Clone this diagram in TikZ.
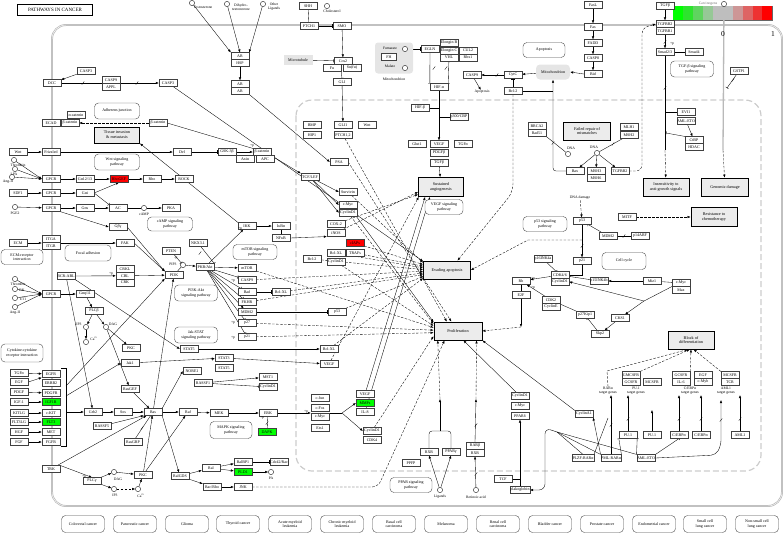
\documentclass[tikz,border=0pt]{standalone}
\usepackage{fontspec}
\setmainfont{Liberation Serif}
\usetikzlibrary{arrows.meta,calc,positioning}
\pgfdeclarelayer{background}
\pgfsetlayers{background,main}
\definecolor{keyA}{RGB}{0,255,0}
\definecolor{keyB}{RGB}{45,228,45}
\definecolor{keyC}{RGB}{95,212,95}
\definecolor{keyD}{RGB}{150,200,150}
\definecolor{keyE}{RGB}{190,190,190}
\definecolor{keyF}{RGB}{205,150,150}
\definecolor{keyG}{RGB}{222,100,100}
\definecolor{keyH}{RGB}{238,50,50}
\definecolor{keyI}{RGB}{255,0,0}

\begin{document}
\begin{tikzpicture}[x=1pt,y=-1pt,
  every node/.style={font=\fontsize{4}{4.4}\selectfont},
  gene/.style={draw=black!75,fill=white,line width=0.35pt,minimum width=18pt,minimum height=6.8pt,inner sep=0.3pt},
  upreg/.style={gene,fill=red},
  downreg/.style={gene,fill=green},
  pheno/.style={draw,line width=0.9pt,fill=gray!15,minimum width=46pt,minimum height=18pt,align=center,inner sep=0.5pt,font=\fontsize{4.2}{4.8}\selectfont},
  pway/.style={draw=black!70,rounded corners=4pt,line width=0.4pt,fill=white,minimum width=44pt,minimum height=15pt,align=center,inner sep=0.5pt},
  organelle/.style={fill=gray!20,rounded corners=3pt,inner sep=0.5pt},
  cpd/.style={circle,draw,fill=white,minimum size=5.2pt,inner sep=0pt,line width=0.35pt},
  tag/.style={inner sep=0.3pt,align=center,font=\fontsize{3.7}{3.9}\selectfont},
  act/.style={-{Latex[length=3pt,width=2.4pt]},line width=0.35pt},
  inh/.style={-{Bar[width=3.4pt]},line width=0.35pt},
  ind/.style={act,dash pattern=on 2.5pt off 1.5pt},
  link/.style={line width=0.35pt},
  brkmark/.pic={\draw[line width=0.3pt,solid] (-1.2,1.6) -- (1.2,-1.6);}]
  \path[use as bounding box] (0,0) rectangle (784,533);
  \node[draw,line width=0.6pt,minimum width=75pt,minimum height=11pt,inner sep=0pt,font=\fontsize{5}{5}\selectfont] (title) at (55,10) {PATHWAYS IN CANCER};

  % Colour key in the top right corner.
  \fill[keyA] (673.3,6) rectangle ++(9.9,14);
  \fill[keyB] (683.2,6) rectangle ++(9.9,14);
  \fill[keyC] (693.1,6) rectangle ++(9.9,14);
  \fill[keyD] (703.0,6) rectangle ++(9.9,14);
  \fill[keyE] (712.9,6) rectangle ++(9.9,14);
  \fill[keyE] (722.8,6) rectangle ++(9.9,14);
  \fill[keyF] (732.7,6) rectangle ++(9.9,14);
  \fill[keyG] (742.6,6) rectangle ++(9.9,14);
  \fill[keyH] (752.5,6) rectangle ++(9.9,14);
  \fill[keyI] (762.4,6) rectangle ++(9.9,14);
  \node[cpd] (carc) at (724,4) {};
  \node[tag,text=black!55] (carcl) at (708,4) {Carcinogens};
  \node[font=\fontsize{7.5}{8}\selectfont,inner sep=0pt] (zero) at (723,34) {0};
  \node[font=\fontsize{7.5}{8}\selectfont,inner sep=0pt] (one) at (773,34) {1};

  % Left column: DCC, adherens junction and G-protein receptors.
  \node[gene] (casp3a) at (86,71) {CASP3};
  \node[gene] (dcc) at (52,83) {DCC};
  \node[gene] (casp9a) at (111,80) {CASP9};
  \node[gene] (appl) at (111,86.8) {APPL};
  \node[gene] (casp3b) at (168,83) {CASP3};
  \node[pway,minimum width=45pt,minimum height=16pt] (adhpw) at (117,111) {Adherens junction};
  \node[gene] (acat) at (76,115) {α-catenin};
  \node[gene] (ecad) at (51,123) {ECAD};
  \node[gene] (bcat1) at (70,123) {β-catenin};
  \node[gene] (bcat2) at (158,123) {β-catenin};
  \node[pheno,minimum width=45pt,minimum height=16pt] (tissue) at (117,135) {Tissue invasion\\\& metastasis};
  \node[gene] (wnt1) at (18,152) {Wnt};
  \node[gene] (fzd) at (51,152) {Frizzled};
  \node[gene] (dvl) at (182,152) {Dvl};
  \node[pway,minimum width=45pt,minimum height=16pt] (wntpw) at (117,162) {Wnt signaling\\pathway};
  \node[cpd] (thr1) at (14,160) {};
  \node[tag] (thr1l) at (18,165) {Thrombin};
  \node[cpd] (lpa) at (15,169) {};
  \node[tag] (lpal) at (14,174) {LPA};
  \node[cpd] (ang1) at (12,177) {};
  \node[tag] (ang1l) at (8,182) {Ang-II};
  \node[gene] (gpcr1) at (51,179) {GPCR};
  \node[gene] (g1213) at (85,179) {Gα12/13};
  \node[upreg] (rhogef) at (119,179) {RhoGEF};
  \node[gene] (rho) at (152,179) {Rho};
  \node[gene] (rock) at (184,179) {ROCK};
  \node[gene] (sdf1) at (18,193) {SDF1};
  \node[gene] (gpcr2) at (51,193) {GPCR};
  \node[gene] (gai) at (85,193) {Gαi};
  \node[cpd] (pge2) at (15,207) {};
  \node[tag] (pge2l) at (15,213) {PGE2};
  \node[gene] (gpcr3) at (51,208) {GPCR};
  \node[gene] (gas) at (85,208) {Gαs};
  \node[gene] (ac) at (118,208) {AC};
  \node[cpd] (camp) at (144,208) {};
  \node[tag] (campl) at (144,214) {cAMP};
  \node[gene] (pka) at (171,208) {PKA};
  \node[pway,minimum width=45pt,minimum height=14pt] (camppw) at (170,224) {cAMP signaling\\pathway};
  \node[gene] (gbg) at (118,227) {Gβγ};
  \node[gene] (ecm) at (18,243) {ECM};
  \node[gene] (itga) at (51,239) {ITGA};
  \node[gene] (itgb) at (51,245.8) {ITGB};
  \node[gene] (fak) at (125,243) {FAK};
  \node[pway,minimum width=42pt] (ecmpw) at (22,257) {ECM-receptor\\interaction};
  \node[pway,minimum width=46pt,minimum height=16pt] (focpw) at (88,253) {Focal adhesion};
  \node[gene] (pten) at (171,251) {PTEN};
  \node[gene] (nkx) at (198,243) {NKX3.1};
  \node[cpd] (pip3) at (183,265) {};
  \node[tag] (pip3l) at (173,264) {PIP3};
  \node[gene] (pi3k) at (174,275) {PI3K};
  \node[gene] (akt) at (205,267) {PKB/Akt};
  \node[gene] (bcrabl) at (66,276) {BCR-ABL};
  \node[gene] (crkl) at (125,269) {CRKL};
  \node[gene] (cbl) at (125,275.8) {CBL};
  \node[gene] (crk) at (125,282.6) {CRK};
  \node[cpd] (thr2) at (15,279) {};
  \node[tag] (thr2l) at (18,284) {Thrombin};
  \node[cpd] (bk) at (15,289) {};
  \node[tag] (bkl) at (22,290) {BK};
  \node[cpd] (et1) at (15,298) {};
  \node[tag] (et1l) at (23,299) {ET1};
  \node[cpd] (ang2) at (15,307) {};
  \node[tag] (ang2l) at (15,313) {Ang-II};
  \node[gene] (gpcr4) at (51,294) {GPCR};
  \node[gene] (gaq) at (85,294) {Gαq/11};
  \node[gene] (plcb) at (94,311) {PLCβ};
  \node[cpd] (ip3a) at (86,327) {};
  \node[tag] (ip3al) at (79,324) {IP3};
  \node[cpd] (dag1) at (106,327) {};
  \node[tag] (dag1l) at (113,324) {DAG};
  \node[cpd] (ca1) at (86,342) {};
  \node[tag] (ca1l) at (94,339) {Ca\textsuperscript{2+}};
  \node[gene] (pkc1) at (131,348) {PKC};
  \node[pway,minimum width=43pt,minimum height=16pt] (pi3kpw) at (196,293) {PI3K-Akt\\signaling pathway};
  \node[pway,minimum width=43pt,minimum height=16pt] (jakpw) at (196,335) {Jak-STAT\\signaling pathway};
  \node[gene] (stat5a) at (189,349) {STAT5};
  \node[pway,minimum width=42pt,minimum height=18pt] (cytpw) at (22,353) {Cytokine-cytokine\\receptor interaction};

  % Growth factors, receptor tyrosine kinases and the Ras cascade.
  \node[gene] (tgfa1) at (19,373) {TGFα};
  \node[gene] (egf1) at (19,382) {EGF};
  \node[gene] (pdgf) at (19,392) {PDGF};
  \node[gene] (igf1) at (19,402) {IGF-1};
  \node[gene] (kitlg) at (19,413) {KITLG};
  \node[gene] (flt3lg) at (19,422) {FLT3LG};
  \node[gene] (hgf) at (19,432) {HGF};
  \node[gene] (fgf) at (19,442) {FGF};
  \node[gene] (egfr) at (51,374) {EGFR};
  \node[gene] (erbb2) at (51,383) {ERBB2};
  \node[gene] (pdgfr) at (51,393) {PDGFR};
  \node[downreg] (igf1r) at (51,402) {IGF1R};
  \node[gene] (ckit) at (51,413) {c-KIT};
  \node[downreg] (flt3) at (51,422) {FLT3};
  \node[gene] (met) at (51,432) {MET};
  \node[gene] (fgfr) at (51,442) {FGFR};
  \coordinate (rtk) at (66,412);
  \coordinate (rtkpi) at (66,386);
  \coordinate (rtkjak) at (66,396);
  \node[gene] (grb2) at (93,412) {Grb2};
  \node[gene] (sos) at (123,412) {Sos};
  \node[gene] (ras) at (153,412) {Ras};
  \node[gene] (raf) at (188,412) {Raf};
  \node[gene] (rasgef) at (130,389) {RasGEF};
  \node[gene] (rassf5) at (102,426) {RASSF5};
  \node[gene] (rasgrp) at (133,442) {RasGRP};
  \node[gene] (jak1) at (130,363) {Jak1};
  \node[gene] (trk) at (51,469) {TRK};
  \node[gene] (plcg) at (92,481) {PLCγ};
  \node[cpd] (dag2) at (114,472) {};
  \node[tag] (dag2l) at (118,479) {DAG};
  \node[cpd] (ip3b) at (114,489) {};
  \node[tag] (ip3bl) at (115,495) {IP3};
  \node[cpd] (ca2) at (138,489) {};
  \node[tag] (ca2l) at (141,496) {Ca\textsuperscript{2+}};
  \node[gene] (pkc2) at (143,475) {PKC};
  \node[gene] (ralgds) at (180,476) {RalGDS};
  \node[gene] (nore1) at (192,371) {NORE1};
  \node[gene] (rassf1) at (203,383) {RASSF1};
  \node[gene] (stat3) at (224,358) {STAT3};
  \node[gene] (stat5b) at (224,368) {STAT5};
  \node[gene] (mst1) at (268,377) {MST1};
  \node[gene] (ccnd1c) at (268,387) {CyclinD1};
  \node[gene] (mek) at (219,413) {MEK};
  \node[gene] (erk) at (268,413) {ERK};
  \node[pway,minimum width=42pt,minimum height=17pt] (mapkpw) at (231,430) {MAPK signaling\\pathway};
  \node[downreg] (dapk) at (267,432) {DAPK};
  \node[gene] (cjun) at (320,398) {c-Jun};
  \node[gene] (cfos) at (320,408) {c-Fos};
  \node[gene] (cmyc3) at (320,417) {c-Myc};
  \node[gene] (ets1) at (320,428) {Ets1};
  \node[gene] (vegf3) at (365,394) {VEGF};
  \node[downreg] (mmps) at (365,403) {MMPs};
  \node[gene] (il8) at (365,412) {IL-8};
  \node[gene] (ccnd1d) at (372,431) {CyclinD1};
  \node[gene] (cdk4) at (372,440) {CDK4};
  \node[gene] (ral) at (211,468) {Ral};
  \node[gene] (ralbp1) at (243,462) {RalBP1};
  \node[gene] (cdc42) at (279,462) {Cdc42/Rac};
  \node[downreg] (pld1) at (243,472) {PLD1};
  \node[cpd] (pa) at (271,472) {};
  \node[tag] (pal) at (271,478) {PA};
  \node[gene] (racrho) at (212,487) {Rac/Rho};
  \node[gene] (jnk) at (243,487) {JNK};
  \node[gene] (bclxl3) at (329,349) {Bcl-XL};
  \node[gene] (vegf2) at (329,364) {VEGF};

  % Middle top: androgen, hedgehog, Wnt and NF-kB branches.
  \node[cpd] (testo) at (192,3) {};
  \node[tag] (testol) at (203,7) {Testosterone};
  \node[cpd] (dht) at (227,4) {};
  \node[tag] (dhtl) at (241,7) {Dihydro-\\testosterone};
  \node[cpd] (oth) at (263,4) {};
  \node[tag] (othl) at (274,7) {Other\\Ligands};
  \node[gene] (ar1) at (240,56) {AR};
  \node[gene] (hsp) at (240,62.8) {HSP};
  \node[gene] (ar2) at (240,84) {AR};
  \node[gene] (ar3) at (240,90.8) {AR};
  \node[gene] (shh) at (308,6) {SHH};
  \node[cpd] (chol) at (327,6) {};
  \node[tag] (choll) at (332,11) {Cholesterol};
  \node[gene] (ptch1) at (309,26) {PTCH1};
  \node[gene] (smo) at (342,26) {SMO};
  \node[organelle,rounded corners=0pt,minimum width=29pt,minimum height=10pt] (micro) at (298,60) {Microtubule};
  \node[gene] (cos2) at (343,61) {Cos2};
  \node[gene] (fu) at (332,67.8) {Fu};
  \node[gene] (sufu) at (352,67.8) {Su(fu)};
  \node[gene] (gli) at (342,82) {GLI};
  \node[gene] (bmp) at (312,125) {BMP};
  \node[gene] (gli1) at (343,125) {GLI1};
  \node[gene] (wnt2) at (367,125) {Wnt};
  \node[gene] (hip1) at (312,135) {HIP1};
  \node[gene] (ptch12) at (343,135) {PTCH1,2};
  \node[gene] (psa) at (339,162) {PSA};
  \node[gene] (gsk) at (227,152) {GSK-3β};
  \node[gene] (bcat3) at (262,152) {β-catenin};
  \node[gene] (axin) at (245,159) {Axin};
  \node[gene] (apc) at (265,159) {APC};
  \node[gene] (tcf) at (310,177) {TCF/LEF};
  \node[gene] (survivin) at (348,192) {Survivin};
  \node[gene] (cmyc1) at (348,205) {c-Myc};
  \node[gene] (ccnd1a) at (348,212.8) {CyclinD1};
  \node[gene] (ikk) at (247,226) {IKK};
  \node[gene] (ikba) at (281,226) {IκBα};
  \node[gene] (nfkb) at (281,238) {NFκB};
  \node[gene] (cox2) at (336,224) {COX-2};
  \node[gene] (inos) at (336,233) {iNOS};
  \node[upreg] (ciaps) at (355,243) {cIAPs};
  \node[gene] (trafs) at (355,253) {TRAFs};
  \node[gene] (bclxl1) at (336,253) {Bcl-XL};
  \node[gene] (bcl2a) at (312,259) {Bcl-2};
  \node[gene] (ccnd1b) at (336,261.8) {CyclinD1};
  \node[pway,minimum width=44pt] (mtorpw) at (255,252) {mTOR signaling\\pathway};
  \node[gene] (mtor) at (247,268) {mTOR};
  \node[gene] (casp9b) at (247,280) {CASP9};
  \node[gene] (bad) at (247,292) {Bad};
  \node[gene] (fkhr) at (247,302) {FKHR};
  \node[gene] (mdm2a) at (247,312) {MDM2};
  \node[gene] (p27a) at (247,323) {p27};
  \node[gene] (p21a) at (247,337) {p21};
  \node[gene] (bclxl2) at (281,292) {Bcl-XL};
  \node[gene] (p53a) at (337,312) {p53};

  % Hypoxia branch and the phenotype boxes.
  \node[organelle,minimum width=38pt,minimum height=31pt] (mito1) at (394,58) {};
  \node[tag] (fuml) at (390,48) {Fumarate};
  \node[cpd] (fum) at (405,49) {};
  \node[gene,minimum width=15pt] (fh) at (389,57) {FH};
  \node[tag] (mall) at (390,66) {Malate};
  \node[cpd] (mal) at (405,68) {};
  \node[tag] (mito1l) at (394,79) {Mitochondrion};
  \node[gene] (egln) at (430,49) {EGLN};
  \node[gene] (elob) at (449,43) {Elongin B};
  \node[gene] (eloc) at (449,50.5) {Elongin C};
  \node[gene] (vhl) at (449,57.3) {VHL};
  \node[gene] (cul2) at (468,50.5) {CUL2};
  \node[gene] (rbx1) at (468,57.3) {Rbx1};
  \node[gene] (hifa) at (439,87) {HIF-α};
  \node[gene] (hifb) at (420,108) {HIF-β};
  \node[gene] (p300) at (459,117) {p300/CBP};
  \node[gene] (glut1) at (417,144) {Glut1};
  \node[gene] (vegf1) at (439,144) {VEGF};
  \node[gene] (tgfa2) at (463,144) {TGFα};
  \node[gene] (pdgfb) at (439,153) {PDGFβ};
  \node[gene] (tgfb2) at (439,163) {TGFβ};
  \node[pheno,minimum width=45pt,minimum height=19pt] (angio) at (441,187) {Sustained\\angiogenesis};
  \node[pway,minimum width=38pt] (vegfpw) at (444,207) {VEGF signaling\\pathway};
  \node[pheno,minimum width=47pt] (evading) at (447,270) {Evading apoptosis};
  \node[pheno,minimum width=48pt] (prolif) at (458,331) {Proliferation};

  % Right half: apoptosis, DNA repair, TGF-beta and the cell cycle.
  \node[pway,minimum width=42pt] (apopw) at (544,50) {Apoptosis};
  \node[organelle,rounded corners=4pt,minimum width=34pt,minimum height=15pt] (mito2) at (553,72) {Mitochondrion};
  \node[gene] (cytc) at (513,75) {CytC};
  \node[gene] (casp9c) at (472,75) {CASP9};
  \node[tag] (apol) at (482,92) {Apoptosis};
  \node[gene] (bcl2b) at (513,91) {Bcl-2};
  \node[gene] (fasl) at (593,5) {FasL};
  \node[gene] (fas) at (593,27) {Fas};
  \node[gene] (fadd) at (593,43) {FADD};
  \node[gene] (casp8) at (593,58) {CASP8};
  \node[gene] (bid) at (593,74) {Bid};
  \node[gene] (brca2) at (537,126) {BRCA2};
  \node[gene] (rad51) at (537,132.8) {Rad51};
  \node[pheno,minimum width=47pt] (failed) at (587,131) {Failed repair of\\mismatches};
  \node[cpd] (dna1) at (568,154) {};
  \node[tag] (dna1l) at (571,148) {DNA};
  \node[cpd] (dna2) at (597,153) {};
  \node[tag] (dna2l) at (594,147) {DNA};
  \node[gene] (bax) at (575,171) {Bax};
  \node[gene] (msh3) at (596,171) {MSH3};
  \node[gene] (msh6) at (596,177.8) {MSH6};
  \node[gene] (tgfbr2c) at (620,171) {TGFBR2};
  \node[gene] (mlh1) at (629,127) {MLH1};
  \node[gene] (msh2) at (629,135) {MSH2};
  \node[gene] (tgfb) at (665,6) {TGFβ};
  \node[gene] (tgfbr2) at (665,24) {TGFBR2};
  \node[gene] (tgfbr1) at (665,30.8) {TGFBR1};
  \node[gene] (smad23) at (665,52) {Smad2/3};
  \node[gene] (smad4) at (694,52) {Smad4};
  \node[pway,minimum width=43pt,minimum height=16pt] (tgfpw) at (692,69) {TGF-β signaling\\pathway};
  \node[gene] (gstp1) at (739,71) {GSTP1};
  \node[gene] (evi1) at (686,112) {EVI1};
  \node[gene] (amleto1) at (686,121) {AML-ETO};
  \node[gene] (ctbp) at (694,140) {CtBP};
  \node[gene] (hdac) at (694,146.8) {HDAC};
  \node[pheno] (insens) at (666,187) {Insensitivity to\\anti-growth signals};
  \node[pheno,minimum width=47pt] (oncog) at (725,187) {Genomic damage};
  \node[gene] (mitf) at (627,217) {MITF};
  \node[pheno,minimum height=19pt] (resist) at (714,217) {Resistance to\\chemotherapy};
  \node[tag] (dnad) at (580,198) {DNA damage};
  \node[gene] (p53b) at (582,221) {p53};
  \node[pway,minimum width=44pt] (p53pw) at (545,224) {p53 signaling\\pathway};
  \node[gene] (mdm2b) at (608,236) {MDM2};
  \node[gene] (p14) at (640,236) {p14ARF};
  \node[gene] (p21b) at (582,261) {p21};
  \node[gene] (p16) at (543,259) {p16INK4a};
  \node[gene] (cdk46) at (560,275) {CDK4/6};
  \node[gene] (ccnd1e) at (560,281.8) {CyclinD1};
  \node[gene] (rb) at (521,281) {Rb};
  \node[gene] (e2f) at (521,295) {E2F};
  \node[gene] (cdk2) at (551,300) {CDK2};
  \node[gene] (ccne) at (551,306.8) {CyclinE};
  \node[pway,minimum width=44pt,minimum height=17pt] (ccpw) at (624,261) {Cell cycle};
  \node[gene] (p15) at (599,281) {p15INK4b};
  \node[gene] (miz1) at (652,281) {Miz1};
  \node[gene] (cmyc2) at (681,283) {c-Myc};
  \node[gene] (max) at (681,289.8) {Max};
  \node[gene] (cks1) at (620,318) {CKS1};
  \node[gene] (skp2) at (600,334) {Skp2};
  \node[gene] (p27b) at (585,315) {p27Kip1};
  \node[pheno] (block) at (691,340) {Block of\\differentiation};

  % Differentiation block: fusion proteins and their target genes.
  \node[gene] (gmcsfr) at (631,375) {GMCSFR};
  \node[gene] (gcsfr1) at (631,381.8) {GCSFR};
  \node[gene] (mcsfr1) at (652,381.8) {MCSFR};
  \node[gene] (gcsfr2) at (681,375) {GCSFR};
  \node[gene] (egf2) at (703,375) {EGF};
  \node[gene] (il6) at (681,381.8) {IL-6};
  \node[gene] (cmyb) at (703,381.8) {c-Myb};
  \node[gene] (mcsfr2) at (730,375) {MCSFR};
  \node[gene] (tcr) at (730,381.8) {TCR};
  \node[tag] (rartg) at (608,391) {RARα\\target genes};
  \node[tag] (pu1tg) at (636,391) {PU.1\\target genes};
  \node[tag] (cebptg) at (690,391) {C/EBPα\\target genes};
  \node[tag] (aml1tg) at (726,391) {AML1\\target genes};
  \node[gene] (ccna1) at (584,414) {CyclinA1};
  \node[gene] (pu1a) at (628,435) {PU.1};
  \node[gene] (pu1b) at (652,435) {PU.1};
  \node[gene] (cebpa1) at (679,435) {C/EBPα};
  \node[gene] (cebpa2) at (701,435) {C/EBPα};
  \node[gene] (aml1) at (740,435) {AML1};
  \node[gene] (plzf) at (583,458) {PLZF-RARα};
  \node[gene] (pmlrar) at (611,458) {PML-RARα};
  \node[gene] (amleto2) at (646,458) {AML-ETO};
  \coordinate (pu1bup) at (652,410);
  \coordinate (amltip) at (721,400);
  \node[gene] (rxr1) at (429,452) {RXR};
  \node[gene] (pparg) at (451,452) {PPARγ};
  \node[gene] (ppfp) at (411,463) {PPFP};
  \node[cpd] (lig) at (440,490) {};
  \node[tag] (ligl) at (440,497) {Ligands};
  \node[gene] (rarb) at (475,446) {RARβ};
  \node[gene] (rxr2) at (475,452.8) {RXR};
  \node[cpd] (ra) at (476,490) {};
  \node[tag] (ral2) at (476,497) {Retinoic acid};
  \node[pway,minimum width=42pt] (ppapw) at (411,485) {PPAR signaling\\pathway};
  \node[gene] (ccnd1f) at (520,396) {CyclinD1};
  \node[gene] (cmyc4) at (520,406) {c-Myc};
  \node[gene] (ppard) at (520,416) {PPARδ};
  \node[gene] (tcf2) at (503,479) {TCF};
  \node[gene] (plako) at (520,490) {plakoglobin};

  % Related cancers along the bottom.
  \node[pway,minimum width=43pt,minimum height=17pt] (crc) at (83,524) {Colorectal cancer};
  \node[pway,minimum width=43pt,minimum height=17pt] (panc) at (135,524) {Pancreatic cancer};
  \node[pway,minimum width=43pt,minimum height=17pt] (glioma) at (187,524) {Glioma};
  \node[pway,minimum width=43pt,minimum height=17pt] (thyroid) at (238,524) {Thyroid cancer};
  \node[pway,minimum width=43pt,minimum height=17pt] (aml) at (290,524) {Acute myeloid\\leukemia};
  \node[pway,minimum width=43pt,minimum height=17pt] (cml) at (342,524) {Chronic myeloid\\leukemia};
  \node[pway,minimum width=43pt,minimum height=17pt] (bcc) at (394,524) {Basal cell\\carcinoma};
  \node[pway,minimum width=43pt,minimum height=17pt] (melanoma) at (446,524) {Melanoma};
  \node[pway,minimum width=43pt,minimum height=17pt] (rcc) at (498,524) {Renal cell\\carcinoma};
  \node[pway,minimum width=43pt,minimum height=17pt] (bladder) at (550,524) {Bladder cancer};
  \node[pway,minimum width=43pt,minimum height=17pt] (prostate) at (602,524) {Prostate cancer};
  \node[pway,minimum width=43pt,minimum height=17pt] (endo) at (654,524) {Endometrial cancer};
  \node[pway,minimum width=43pt,minimum height=17pt] (sclc) at (705,524) {Small cell\\lung cancer};
  \node[pway,minimum width=43pt,minimum height=17pt] (nsclc) at (757,524) {Non-small cell\\lung cancer};

  % phosphorylation marks
  \node[tag] (p1) at (262,418) {+p};
  \node[tag] (p2) at (212,360) {+p};
  \node[tag] (p3) at (240,229) {+p};
  \node[tag] (p4) at (111,274) {+p};
  \node[tag] (p5) at (233,281) {+p};
  \node[tag] (p6) at (233,323) {+p};
  \node[tag] (p7) at (233,338) {+p};
  \node[tag] (p8) at (533,279) {+p};
  \node[tag] (p9) at (533,288) {+p};
  \node[tag] (p10) at (672,44) {+p};
  \node[tag] (p11) at (84,477) {+p};
  \node[tag] (p12) at (306,412) {+p};
  \node[tag] (p13) at (176,258) {-p};
  \node[tag] (p14l) at (252,146) {+p};

  \begin{pgfonlayer}{background}
    % cell membrane and nucleus
    \draw[gray!55,line width=1.9pt,rounded corners=14pt] (52,25) rectangle (782,506);
    \draw[white,line width=0.45pt,rounded corners=14pt] (52,25) rectangle (782,506);
    \draw[gray!40,line width=1.2pt,dash pattern=on 6pt off 3pt,rounded corners=16pt] (296,100) rectangle (761,471);
    \draw[black!60,line width=0.3pt] (673.3,6) rectangle (772.3,20);

    % left column
    \draw[act] (casp3a) -- (dcc);
    \draw[act] (dcc) -- (casp3b);
    \pic at (83,83) {brkmark};
    \pic at (137,83) {brkmark};
    \draw[act] (casp3b) -- (evading.160);
    \draw[ind] (bcat2) -- (bcat1);
    \draw[link] (bcat2.east) -- (bcat3.north west);
    \draw[act] (wnt1) -- (fzd);
    \draw[act] (fzd) -- (dvl);
    \draw[inh] (dvl) -- (gsk);
    \draw[act] (ikk.north west) -- (tissue.south east);
    \draw[act] (thr1) -- (gpcr1.west);
    \draw[act] (lpa) -- (gpcr1.west);
    \draw[act] (ang1) -- (gpcr1.west);
    \draw[act] (gpcr1) -- (g1213);
    \draw[act] (g1213) -- (rhogef);
    \draw[act] (rhogef) -- (rho);
    \draw[act] (rho) -- (rock);
    \draw[act] (sdf1) -- (gpcr2);
    \draw[act] (gpcr2) -- (gai);
    \draw[act] (gai.east) -- (rhogef.south);
    \draw[inh] (gai.east) -- (ac.north west);
    \draw[act] (pge2) -- (gpcr3);
    \draw[act] (gpcr3) -- (gas);
    \draw[act] (gas) -- (ac);
    \draw[link] (ac) -- (camp);
    \draw[act] (camp) -- (pka);
    \draw[act] (gpcr3.south east) -- (gbg.west);
    \draw[act] (gbg.east) -- (pi3k.north west);
    \draw[act] (ecm) -- (ecm -| itga.west);
    \draw[act] (ecm -| itga.east) -- (fak);
    \draw[act] (fak.east) -- (pi3k.north west);
    \draw[inh] (pten) -- (pip3);
    \draw[link] (pi3k) -- (pip3);
    \draw[act] (pip3) -- (akt);
    \draw[inh] (nkx) -- (akt.north east);
    \pic at (200,253) {brkmark};
    \draw[act] (bcrabl.east) -- (cbl.west);
    \draw[act] (cbl) -- (pi3k);
    \draw[act] (bcrabl.south east) -- (stat5a.west);
    \draw[act] (bcrabl) -- (grb2);
    \draw[act] (thr2) -- (gpcr4.west);
    \draw[act] (bk) -- (gpcr4.west);
    \draw[act] (et1) -- (gpcr4.west);
    \draw[act] (ang2) -- (gpcr4.west);
    \draw[act] (gpcr4) -- (gaq);
    \draw[act] (gaq) -- (plcb);
    \draw[act] (plcb) -- (ip3a);
    \draw[act] (plcb) -- (dag1);
    \draw[act] (ip3a) -- (ca1);
    \draw[act] (dag1) -- (pkc1);
    \draw[act] (dag1) -- (rasgef);
    \draw[link] (61,368) -- (66,368) -- (66,446) -- (61,446);
    \draw[act] (tgfa1) -- (egfr);
    \draw[act] (egf1.east) -- (egfr.south west);
    \draw[act] (pdgf) -- (pdgfr);
    \draw[act] (igf1) -- (igf1r);
    \draw[act] (kitlg) -- (ckit);
    \draw[act] (flt3lg) -- (flt3);
    \draw[act] (hgf) -- (met);
    \draw[act] (fgf) -- (fgfr);
    \draw[act] (rtk) -- (grb2);
    \draw[act] (rtkpi) -- (pi3k.south west);
    \draw[act] (rtkjak) -- (jak1.west);
    \draw[act] (trk) -- (ras);
    \draw[act] (trk.north east) -- (plcg.north);
    \draw[act] (grb2) -- (sos);
    \draw[act] (sos) -- (ras);
    \draw[act] (ras) -- (raf);
    \draw[act] (rasgef) -- (ras);
    \draw[act] (rassf5) -- (ras.south west);
    \draw[inh] (rasgrp) -- (ras);
    \pic at (142,428) {brkmark};
    \draw[act] (ras) -- (pi3k);
    \draw[act] (ras.north east) -- (nore1.west);
    \draw[act] (ras.south east) -- (ralgds);
    \draw[act] (raf) -- (mek);
    \draw[act] (mek) -- (erk);
    \draw[act] (jak1) -- (stat3);
    \draw[act] (rassf1) -- (mst1);
    \draw[inh] (rassf1) -- (ccnd1c);
    \draw[link] (erk) -- (dapk);
    \pic at (267,423) {brkmark};
    \draw[act] (erk) -- (erk -| cfos.west);
    \coordinate (apdot) at (342,413);
    \draw[link] (erk -| cfos.east) -- (apdot);
    \draw[act] (apdot) -- (mmps.west);
    \draw[act] (apdot) -- (ccnd1d.west);
    \draw[act] (ralgds) -- (ral);
    \draw[act] (ralgds) -- (racrho);
    \draw[act] (ral) -- (ralbp1);
    \draw[act] (ral) -- (pld1);
    \draw[inh] (ralbp1) -- (cdc42);
    \draw[act] (pld1) -- (pa);
    \draw[act] (racrho) -- (jnk);
    \draw[ind,rounded corners=6pt] (jnk) -- (378,487) -- (prolif.215);
    \draw[act] (plcg) -- (dag2);
    \draw[act] (plcg) -- (ip3b);
    \draw[ind] (ip3b) -- (ca2);
    \draw[act] (dag2) -- (pkc2);
    \draw[act] (ca2) -- (pkc2);
    \draw[act] (pkc2) -- (ras);
    \draw[act] (pkc2) -- (raf);
    \draw[act] (stat3) -- (vegf2);
    \draw[act] (stat5a) -- (bclxl3);

    % middle branches
    \draw[act] (testo) -- (ar1.north west);
    \draw[act] (dht) -- (ar1.north);
    \draw[act] (oth) -- (ar1.north east);
    \draw[act] (hsp) -- (ar2);
    \draw[act] (ar3.south east) -- (psa.west);
    \draw[inh] (shh) -- (ptch1);
    \draw[inh] (ptch1) -- (smo);
    \draw[act] (smo) -- (cos2);
    \draw[inh] (micro) -- (cos2);
    \draw[inh] (fu.south east) -- (gli.north);
    \draw[act] (gli) -- (gli1);
    \draw[act] (gsk) -- (bcat3);
    \draw[act] (bcat3.south east) -- (tcf.north west);
    \draw[act] (tcf) -- (survivin.west);
    \draw[act] (tcf) -- (cmyc1.west);
    \draw[act] (tcf) -- (ccnd1a.west);
    \draw[act] (akt) -- (ikk);
    \draw[act] (ikk) -- (ikba);
    \draw[inh] (ikba) -- (nfkb);
    \draw[act] (nfkb.east) -- (inos.south west);
    \draw[act] (akt) -- (mtor);
    \draw[inh] (akt) -- (casp9b);
    \draw[inh] (akt) -- (bad);
    \draw[inh] (akt) -- (fkhr);
    \draw[act] (akt) -- (mdm2a);
    \draw[inh] (akt) -- (p27a);
    \draw[inh] (akt) -- (p21a);
    \draw[inh] (bad) -- (bclxl2);
    \draw[inh] (mdm2a) -- (p53a);

    % into the phenotypes
    \draw[ind] (survivin) -- (evading.163);
    \draw[act] (cmyc1) -- (prolif.160);
    \draw[ind] (ccnd1a) -- (prolif.164);
    \draw[ind] (cox2) -- (angio.198);
    \draw[ind] (inos) -- (angio.192);
    \draw[ind] (ciaps) -- (evading.167);
    \draw[ind] (trafs) -- (evading.171);
    \draw[ind] (bclxl1) -- (evading.175);
    \draw[ind] (bcl2a) -- (evading.179);
    \draw[ind] (ccnd1b) -- (prolif.168);
    \draw[ind] (mtor) -- (prolif.172);
    \draw[ind] (casp9b) -- (evading.183);
    \draw[ind] (bclxl2) -- (evading.187);
    \draw[ind] (fkhr) -- (evading.191);
    \draw[ind] (p53a) -- (evading.195);
    \draw[ind] (p27a) -- (prolif.178);
    \draw[ind] (p21a) -- (prolif.184);
    \draw[ind] (bclxl3) -- (evading.199);
    \draw[ind] (vegf2) -- (angio.204);
    \draw[act] (vegf3) -- (angio.212);
    \draw[act] (il8) -- (angio.222);
    \draw[ind] (ccnd1d) -- (prolif.192);
    \draw[ind] (ptch12) -- (prolif.140);
    \draw[ind] (psa.east) -- (prolif.125);

    % hypoxia
    \draw[act] (fum) -- (mal);
    \draw[inh] (fum) -- (egln);
    \draw[inh] (egln) -- (hifa.north west);
    \draw[inh] (vhl) -- (hifa.north east);
    \pic at (434,68) {brkmark};
    \pic at (446,68) {brkmark};
    \draw[act] (hifa) -- (vegf1);
    \draw[link] (hifb.east) -- (hifb -| hifa);
    \draw[link] (p300.west) -- (p300 -| hifa);
    \draw[act] (tgfb2) -- (angio);

    % apoptosis and DNA repair
    \draw[act] (fasl) -- (fas);
    \draw[act] (fas) -- (fadd);
    \draw[act] (fadd) -- (casp8);
    \draw[act] (casp8) -- (bid);
    \draw[act] (bid.west) -- (mito2.east);
    \draw[act] (mito2) -- (cytc);
    \draw[act] (cytc) -- (casp9c);
    \pic at (497,75) {brkmark};
    \draw[act] (casp9c) -- (apol);
    \draw[inh] (bcl2b) -- (cytc);
    \draw[act,rounded corners=3pt] (bax.west) -| (mito2.south);
    \coordinate (baxtap) at (553,91);
    \draw[inh] (baxtap) -- (bcl2b);
    \draw[ind,rounded corners=8pt] (bcl2b) -- (513,192) -- (evading.42);
    \draw[link] (rad51.south east) -- (dna1);
    \pic at (553,143) {brkmark};
    \draw[link] (msh2) -- (dna2);
    \pic at (613,144) {brkmark};
    \draw[act] (dna2) -- (bax);
    \draw[act] (dna2) -- (msh3);
    \draw[act] (dna2) -- (tgfbr2c);
    \draw[ind,rounded corners=6pt] (tgfbr2c.east) -- (642,171) -- (642,28) -- (tgfbr2.west);

    % TGF-beta and carcinogens
    \draw[act] (tgfb) -- (tgfbr2);
    \draw[act] (tgfbr1) -- (smad23);
    \pic at (665,42) {brkmark};
    \draw[link] (smad23) -- (smad4);
    \coordinate (smadlow) at (665,150);
    \draw[link] (smad23) -- (smadlow);
    \pic at (665,88) {brkmark};
    \draw[ind] (smadlow) -- (insens);
    \draw[inh] (evi1.west) -- (evi1 -| smad23);
    \draw[act] (amleto1) -- (ctbp);
    \coordinate (ctbpbar) at (666,133);
    \draw[inh] (ctbp.north west) -- (ctbpbar);
    \coordinate (carcmid) at (723,150);
    \draw[gray!55,line width=1.3pt] (carc) -- (carcmid);
    \draw[ind] (carcmid) -- (oncog);
    \coordinate (gsttip) at (727,88);
    \draw[inh] (gstp1) -- (gsttip);
    \pic at (733,80) {brkmark};

    % p53 and the cell cycle
    \draw[ind] (dnad) -- (p53b);
    \draw[act] (p53b) -- (p21b);
    \pic at (582,246) {brkmark};
    \draw[inh] (mdm2b) -- (p53b);
    \draw[inh] (p14) -- (mdm2b);
    \pic at (624,236) {brkmark};
    \coordinate (p53tap) at (582,240);
    \draw[ind] (p53tap) -- (528,240) -- (evading.east);
    \draw[inh] (p16) -- (cdk46);
    \draw[inh] (p21b) |- (cdk46);
    \draw[inh] (p15) -- (cdk46);
    \draw[act] (cdk46) -- (rb);
    \draw[act] (cdk2) -- (rb);
    \draw[inh] (rb) -- (e2f);
    \coordinate (e2fdn) at (521,327);
    \draw[act] (e2f) -- (e2fdn);
    \draw[ind] (e2fdn) -- (prolif.east);
    \draw[act] (miz1) -- (p15);
    \draw[inh] (cmyc2) -- (miz1);
    \coordinate (mycdot) at (644,301);
    \draw[link] (cmyc2.south west) -- (mycdot);
    \draw[act] (mycdot) -- (cks1);
    \draw[act] (mycdot) -- (ccnd1e.east);
    \draw[act] (cks1) -- (skp2);
    \draw[inh] (skp2) -- (p27b);
    \draw[inh] (p27b) -- (cdk2);
    \draw[ind] (mitf) -- (resist);

    % differentiation
    \draw[ind] (rartg.north) -- (607,371) -- (block.252);
    \draw[ind] (gmcsfr.north east) -- (block.262);
    \draw[ind] (gcsfr2.north east) -- (block.south);
    \draw[ind] (mcsfr2.north west) -- (block.286);
    \draw[act] (pmlrar) -- (pmlrar |- rartg.south);
    \pic at (611,425) {brkmark};
    \draw[act] (pu1a) -- (pu1a |- pu1tg.south);
    \pic at (628,419) {brkmark};
    \draw[act] (pu1b) -- (pu1bup);
    \draw[act] (cebpa1) -- (cebpa1 |- cebptg.south);
    \pic at (679,419) {brkmark};
    \draw[act] (cebpa2) -- (cebpa2 |- cebptg.south);
    \pic at (701,419) {brkmark};
    \draw[act] (aml1) -- (aml1 |- aml1tg.south);
    \pic at (740,419) {brkmark};
    \draw[act,rounded corners=5pt] (amleto2.east) -- (716,455) -- (721,445) -- (amltip);
    \pic at (721,420) {brkmark};
    \draw[inh] (pmlrar.north east) -- (pu1a.south west);
    \draw[inh] (amleto2.north west) -- (pu1a.south east);
    \draw[inh] (amleto2.north east) -- (cebpa1.south);
    \draw[act] (pmlrar.north west) -- (ccna1.south east);
    \draw[link] (plzf.north east) -- (608,418);
    \coordinate (fusjct) at (557,432);
    \draw[link] (plzf.north) -- (fusjct);
    \draw[link] (pmlrar.north west) -- (fusjct);
    \draw[link] (amleto2.north west) -- (fusjct);
    \draw[act,rounded corners=6pt] (fusjct) -- (545,428) -- (545,490) -- (plako.east);
    \draw[act] (ccna1.north west) -- (prolif.south east);
    \draw[act] (ccnd1f) -- (prolif.300);

    % retinoid and PPAR receptors
    \coordinate (rxrjct) at (440,431);
    \draw[link,rounded corners=3pt] (rxr1.north) |- (rxrjct);
    \draw[link,rounded corners=3pt] (pparg.north) |- (rxrjct);
    \coordinate (rxrtip) at (440,399);
    \draw[act] (rxrjct) -- (rxrtip);
    \draw[ind] (rxrtip) -- (prolif.205);
    \draw[act] (lig) -- (rxr1.south);
    \draw[act] (lig) -- (pparg.south);
    \draw[act] (ra) -- (rxr2.south);
    \pic at (476,474) {brkmark};
    \coordinate (rartip) at (476,399);
    \draw[act] (rarb.north) -- (rartip);
    \pic at (476,425) {brkmark};
    \draw[ind] (rartip) -- (prolif.333);
    \draw[act] (plako.north) -- (ppard.south);
    \draw[link] (tcf2.east) -- (tcf2 -| plako);
  \end{pgfonlayer}
\end{tikzpicture}
\end{document}
